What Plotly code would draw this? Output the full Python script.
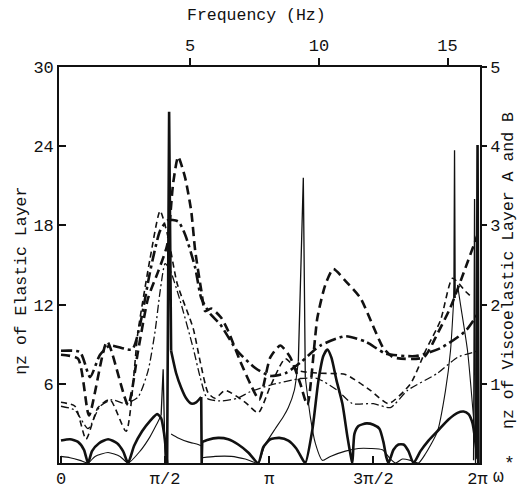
import plotly.graph_objects as go
import math

# ---------------- data (omega* in rad, eta_z read on left-axis scale) ----------------
# thick dash-dot
tdd_w = [0, 0.287, 0.438, 0.589, 0.74, 1.072, 1.193, 1.344, 1.495, 1.616, 1.767, 1.873, 2.024, 2.115,
         2.25, 2.402, 2.658, 2.93, 3.157, 3.383, 3.61, 3.912, 4.29, 4.592, 4.894, 5.347, 5.724, 6.102, 6.298]
tdd_v = [8.5, 8.4, 6.5, 8.2, 8.9, 8.6, 10.5, 14.5, 17.6, 18.4, 18.3, 17.3, 14.8, 12.5,
         11.3, 10.5, 8.5, 7.2, 6.6, 6.8, 7.6, 8.9, 9.6, 9.2, 8.3, 8.1, 8.7, 10.0, 11.4]

# thick dashed
td_w = [0, 0.257, 0.423, 0.695, 1.012, 1.163, 1.314, 1.465, 1.601, 1.692, 1.767, 1.873, 1.964, 2.024,
        2.115, 2.175, 2.266, 2.417, 2.522, 2.704, 2.855, 2.99, 3.157, 3.308, 3.459, 3.61, 3.716, 3.867,
        3.987, 4.108, 4.29, 4.516, 4.697, 4.863, 5.015, 5.468, 5.679, 5.875, 6.102, 6.283]
td_v = [8.2, 7.9, 3.6, 9.2, 4.4, 8.5, 12.5, 14.5, 16.5, 21.2, 23.2, 21.6, 19.1, 16.1,
        13.1, 11.5, 11.7, 11.0, 10.0, 7.7, 6.0, 4.8, 8.0, 8.9, 8.0, 6.0, 4.4, 11.0,
        13.5, 14.7, 13.8, 12.5, 10.5, 8.7, 8.0, 8.0, 9.8, 11.8, 14.8, 17.3]

# thin dashed
dn_w = [0, 0.211, 0.378, 0.559, 0.74, 0.982, 1.163, 1.344, 1.495, 1.616, 1.752, 1.994, 2.099, 2.22,
        2.326, 2.477, 2.779, 2.975, 3.157, 3.383, 3.58, 3.912, 4.29, 4.667, 4.939, 5.271, 5.498, 5.724,
        5.906, 6.102, 6.208]
dn_v = [4.6, 4.3, 1.8, 4.2, 4.8, 2.4, 10.0, 15.5, 19.1, 17.1, 13.6, 10.2, 7.7, 5.3,
        4.9, 5.5, 4.6, 3.8, 5.8, 7.9, 7.0, 6.8, 6.7, 5.5, 4.5, 6.0, 8.5, 10.8,
        14.0, 13.0, 12.5]

# thin dash-dot
ddn_w = [0, 0.211, 0.408, 0.589, 0.77, 0.967, 1.163, 1.314, 1.42, 1.495, 1.571, 1.646, 1.797, 1.994,
         2.099, 2.205, 2.402, 2.658, 2.855, 3.157, 3.61, 3.867, 4.169, 4.395, 4.712, 4.969, 5.226,
         5.679, 5.981, 6.298]
ddn_v = [4.3, 4.0, 2.6, 4.3, 4.8, 4.5, 5.0, 7.0, 10.0, 13.0, 15.1, 14.6, 12.3, 8.7,
         6.5, 4.9, 4.7, 4.9, 5.4, 5.9, 6.4, 6.4, 5.5, 4.5, 4.5, 4.2, 5.5,
         6.8, 8.0, 8.5]

# thick solid (None = break at a resonance spike)
ts_w = [0, 0.136, 0.257, 0.347, 0.408, 0.468, 0.574, 0.71, 0.846, 0.936, 1.012, 1.103, 1.223, 1.344,
        1.45, 1.51, 1.556, 1.601, None,
        1.661, 1.737, 1.813, 1.888, 1.964, 2.039, 2.115, None,
        2.13, 2.205, 2.371, 2.522, 2.673, 2.824, 2.975, 3.051, 3.157, 3.293, 3.429, 3.549, 3.64, 3.685,
        3.791, 3.882, 3.957, 4.018, 4.078, 4.154, 4.244, 4.32, 4.38, 4.395, 4.426, 4.486, 4.607, 4.712,
        4.803, 4.863, 4.909, 4.939, 5.015, 5.09, 5.166, 5.241, 5.317, 5.422, 5.543, 5.694, 5.845,
        5.981, 6.072, 6.147, 6.208, 6.253, 6.283]
ts_v = [1.7, 1.8, 1.6, 1.0, 0, 0.9, 1.5, 1.8, 1.5, 0.9, 0, 1.3, 2.4, 3.2,
        3.7, 3.4, 2.2, 0, None,
        8.5, 6.8, 5.7, 4.9, 4.5, 4.6, 5.0, None,
        1.6, 1.75, 1.9, 1.8, 1.4, 0.8, 0, 1.2, 1.8, 1.9, 1.7, 1.1, 0.3, 0,
        2.5, 6.2, 8.1, 8.6, 8.0, 6.3, 4.5, 2.0, 0.3, 0, 2.2, 2.8, 3.0, 2.9,
        2.6, 1.6, 0.4, 0, 1.0, 1.4, 1.4, 0.9, 0, 0.9, 1.7, 2.5, 3.3,
        3.8, 3.9, 3.7, 3.0, 1.5, 0.3]
# thick solid spikes
ts_spk_w = [1.601, 1.631, 1.661, None, 2.115, 2.122, 2.13, None, 6.268, 6.283, 6.298]
ts_spk_v = [0, 26.6, 8.5, None, 5.0, 0, 1.6, None, 0.6, 24.1, 0]

# thin solid
tn_w = [0, 0.136, 0.287, 0.408, 0.514, 0.71, 0.891, 1.012, 1.193, 1.344, 1.45, 1.51, None,
        1.661, 1.767, 1.918, 2.069, 2.115, None,
        2.13, 2.326, 2.568, 2.779, 2.975, 3.036, 3.081, 3.232, 3.353, 3.429, 3.519, 3.58, None,
        3.685, 3.761, 3.836, 3.942, 4.063, 4.29, 4.486, 4.667, 4.848, 4.969, 5.045, 5.15, 5.271,
        5.392, 5.498, 5.679, 5.8, 5.875, 5.936, None,
        5.981, 6.026, 6.132, 6.223, 6.268]
tn_v = [0.5, 0.4, 0.2, 0, 0.5, 0.8, 0.5, 0, 0.9, 2.0, 3.0, 3.6, None,
        2.2, 1.9, 1.6, 1.4, 1.3, None,
        0.4, 0.5, 0.5, 0.3, 0, 0.8, 1.4, 2.6, 3.5, 4.2, 5.5, 7.7, None,
        6.5, 3.5, 1.5, 0.2, 0.5, 0.9, 1.1, 1.1, 1.0, 0.3, 0, 0.3, 0.2,
        0, 0.7, 2.4, 5.5, 8.5, 13.5, None,
        13.5, 12.0, 8.5, 3.4, 0.5]
# thin solid spikes
tn_spk_w = [1.51, 1.541, 1.571, None, 3.58, 3.655, 3.685, None, 5.926, 5.936, 5.946, None, 6.223, 6.238, 6.253]
tn_spk_v = [3.6, 7.1, 0, None, 7.7, 21.6, 6.5, None, 12.5, 23.7, 12.5, None, 0.2, 20.0, 0]

x_tickvals = [0, math.pi / 2, math.pi, 3 * math.pi / 2, 2 * math.pi]
x_ticktext = ["0", "π/2", "π", "3π/2", "2π"]
left_ticks = [6, 12, 18, 24, 30]
right_ticks = [1, 2, 3, 4, 5]
freq_ticks = [5, 10, 15]

FONT = "Liberation Mono"
BLACK = "#111"

fig = go.Figure()


def add_line(x, y, width, dash="solid", shape="spline"):
    fig.add_trace(go.Scatter(x=x, y=y, mode="lines", showlegend=False, hoverinfo="skip",
                             line=dict(color=BLACK, width=width, dash=dash, shape=shape,
                                       smoothing=0.6 if shape == "spline" else None),
                             connectgaps=False))


add_line(ddn_w, ddn_v, 1.3, "8px,3px,2px,3px")
add_line(dn_w, dn_v, 1.6, "6px,4px")
add_line(tdd_w, tdd_v, 2.6, "11px,4px,3px,4px")
add_line(td_w, td_v, 2.6, "9px,5px")
add_line(tn_w, tn_v, 1.1)
add_line(tn_spk_w, tn_spk_v, 1.3, shape="linear")
add_line(ts_w, ts_v, 2.6)
add_line(ts_spk_w, ts_spk_v, 2.6, shape="linear")

# invisible traces to activate secondary axes
fig.add_trace(go.Scatter(x=[None], y=[None], xaxis="x2", yaxis="y", showlegend=False))
fig.add_trace(go.Scatter(x=[None], y=[None], xaxis="x", yaxis="y2", showlegend=False))

axfont = dict(family=FONT, size=17, color=BLACK)
common = dict(tickwidth=1.5, tickcolor=BLACK, showline=True, linecolor=BLACK, linewidth=1.6,
              showgrid=False, zeroline=False, tickfont=axfont, automargin=False)
tfont = dict(family=FONT, size=16.5, color=BLACK)
fig.update_layout(
    width=522, height=491,
    margin=dict(l=59, r=42, t=67, b=28),
    paper_bgcolor="white", plot_bgcolor="white",
    xaxis=dict(range=[-0.03, 6.32], tickvals=x_tickvals, ticktext=x_ticktext, ticks="inside",
               ticklen=7, ticklabelstandoff=-1, **common),
    xaxis2=dict(range=[-0.097, 16.26], overlaying="x", side="top", tickvals=freq_ticks, ticks="outside",
                ticklen=7, **common),
    yaxis=dict(range=[0, 30], tickvals=left_ticks, ticks="inside", ticklen=7, **common),
    yaxis2=dict(range=[0, 5], overlaying="y", side="right", tickvals=right_ticks, ticks="outside",
                ticklen=5, **common),
    annotations=[
        dict(text="Frequency (Hz)", x=0.468, y=1.131, xref="paper", yref="paper", showarrow=False,
             xanchor="center", yanchor="middle", font=tfont),
        dict(text="ηz of Elastic Layer", x=-0.088, y=0.46, xref="paper", yref="paper", showarrow=False,
             xanchor="center", yanchor="middle", textangle=-90, font=tfont),
        dict(text="ηz of Viscoelastic Layer A and B", x=1.066, y=0.487, xref="paper", yref="paper",
             xanchor="center", yanchor="middle", showarrow=False, textangle=-90, font=tfont),
        dict(text="ω", x=1.043, y=-0.036, xref="paper", yref="paper", showarrow=False,
             xanchor="center", yanchor="middle", font=dict(family=FONT, size=18, color=BLACK)),
        dict(text="*", x=1.07, y=-0.003, xref="paper", yref="paper", showarrow=False,
             xanchor="center", yanchor="middle", font=dict(family=FONT, size=18, color=BLACK)),
    ],
)

fig.write_html("out.html", config={"displayModeBar": False},
               post_script="document.body.style.margin='0';document.body.style.padding='0';")
